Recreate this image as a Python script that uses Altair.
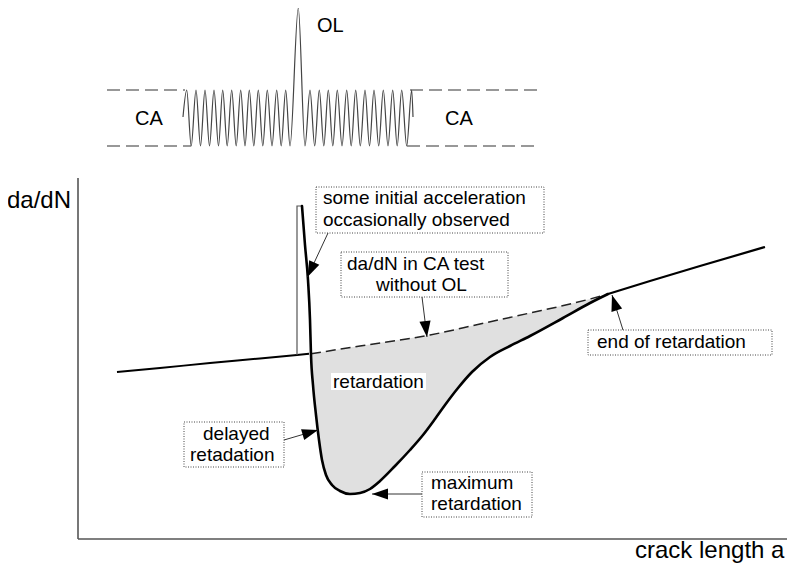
import altair as alt
import pandas as pd
import numpy as np

X_DOMAIN = [8, 787]
Y_DOMAIN = [8, 563]
W, H = 779, 555
FONT = "Liberation Sans"

# ---- top panel: load sequence ----
wave_x = [183, 186.7, 191.2, 196, 200.5, 205, 209.5, 214, 218.5, 222.7, 227.2, 231.7,
          236.2, 240.7, 245, 249.3, 253.8, 258.3, 262.8, 267.3, 272, 276.7, 281.2,
          285.7, 290, 298.3, 305, 310, 314.7, 319.3, 323.8, 328.3, 332.8, 337.3, 342,
          346.7, 351.2, 355.7, 360.3, 365, 369.5, 374, 378.7, 383.3, 388, 392.7,
          397.2, 401.7, 406.7, 411.7, 413]
wave_y = [117, 90, 146, 90, 146, 90, 146, 90, 146, 90, 146, 90,
          146, 90, 146, 90, 146, 90, 146, 90, 146, 90, 146,
          90, 146, 8, 146, 90, 146, 90, 146, 90, 146, 90, 146,
          90, 146, 90, 146, 90, 146, 90, 146, 90, 146, 90,
          146, 90, 146, 90, 117]

ca_levels_x0 = [107, 107, 410, 407]
ca_levels_x1 = [185, 191, 537, 537]
ca_levels_y = [90, 146, 90, 146]

# ---- main panel curves ----
ca_before_x = [117, 160, 210, 260, 297, 309]
ca_before_y = [372, 368, 363, 358.5, 355, 353.8]
ca_dash_x = [311, 360, 430, 480, 530, 570, 590, 608]
ca_dash_y = [353.8, 346, 335, 324, 313, 304, 299, 294]
ca_after_x = [608, 650, 700, 765]
ca_after_y = [294, 281, 266, 247]

spike_x = [297, 297, 302]
spike_y = [355, 206, 206]

ret_x = [302, 305, 308, 310, 311, 313, 316, 319, 322, 326, 332, 340, 350, 360, 370,
         380, 395, 410, 423, 435, 445, 458, 472, 490, 510, 530, 563, 590, 608]
ret_y = [206, 245, 280, 320, 355, 385, 415, 440, 460, 475, 485, 491, 494, 493, 489,
         481, 466, 450, 435, 419, 405, 388, 372, 357, 346, 336, 318, 303, 294]

# ---- axes ----
axis_x0 = [78, 78]
axis_x1 = [78, 787]
axis_y0 = [178, 539]
axis_y1 = [539, 539]

# ---- annotation boxes ----
box_x0 = [316, 341, 184, 422, 588]
box_x1 = [544, 508, 284, 532, 772]
box_y0 = [187, 252, 422, 472, 330]
box_y1 = [233, 297, 467, 517, 355]

label_bg = {"x0": [331], "x1": [426], "y0": [373], "y1": [390]}

# ---- arrows (start -> tip) ----
arr_x0 = [328, 422, 623, 284, 422]
arr_y0 = [233, 297, 330, 440, 494]
arr_x1 = [307.5, 427, 612, 318, 372]
arr_y1 = [277, 337, 295, 430, 494]

# ---- texts ----
txt = ["some initial acceleration", "occasionally observed", "da/dN in CA test",
       "without OL", "delayed", "retadation", "maximum", "retardation",
       "end of retardation", "retardation"]
txt_x = [323, 323, 347, 376, 203, 190, 431, 431, 597, 333]
txt_y = [198, 220, 264, 285, 434, 455, 483, 504, 342, 382]

big_txt = ["da/dN", "crack length a"]
big_x = [7, 635]
big_y = [201, 551]

top_txt = ["OL", "CA", "CA"]
top_x = [317, 135, 445]
top_y = [26, 119, 119]

xs = alt.Scale(domain=X_DOMAIN, nice=False, zero=False)
ys = alt.Scale(domain=Y_DOMAIN, nice=False, zero=False, reverse=True)


def X(f="x"):
    return alt.X(f"{f}:Q", scale=xs, axis=None)


def Y(f="y"):
    return alt.Y(f"{f}:Q", scale=ys, axis=None)


def line(xv, yv, color, width, dash=None, interp="linear", cap="butt"):
    df = pd.DataFrame({"x": xv, "y": yv, "i": list(range(len(xv)))})
    kw = dict(color=color, strokeWidth=width, interpolate=interp, strokeCap=cap)
    if dash:
        kw["strokeDash"] = dash
    return alt.Chart(df).mark_line(**kw).encode(x=X(), y=Y(), order="i:Q")


def segs(x0, y0, x1, y1, color, width, dash=None):
    df = pd.DataFrame({"x": x0, "y": y0, "x2": x1, "y2": y1})
    kw = dict(color=color, strokeWidth=width)
    if dash:
        kw["strokeDash"] = dash
    return alt.Chart(df).mark_rule(**kw).encode(
        x=X(), y=Y(), x2="x2:Q", y2="y2:Q")


def texts(t, xv, yv, size):
    df = pd.DataFrame({"t": t, "x": xv, "y": yv})
    return alt.Chart(df).mark_text(
        font=FONT, fontSize=size, align="left", baseline="middle", color="black"
    ).encode(x=X(), y=Y(), text="t:N")


layers = []

# shaded retardation zone
ret_arr_x = np.array(ret_x, dtype=float)
ret_arr_y = np.array(ret_y, dtype=float)
m = ret_arr_x >= 311
shade_df = pd.DataFrame({
    "x": ret_arr_x[m],
    "y": ret_arr_y[m],
    "y2": np.interp(ret_arr_x[m], ca_dash_x, ca_dash_y),
})
layers.append(alt.Chart(shade_df).mark_area(color="#e0e0e0", interpolate="monotone",
                                            opacity=1).encode(
    x=X(), y=Y(), y2="y2:Q"))

# axes
layers.append(segs(axis_x0, axis_y0, axis_x1, axis_y1, "#555555", 1.6))

# top panel
layers.append(segs(ca_levels_x0, ca_levels_y, ca_levels_x1, ca_levels_y,
                   "#333333", 1.2, dash=[13, 6]))
layers.append(line(wave_x, wave_y, "#444444", 1.2, interp="monotone"))

# main curves
layers.append(line(ca_before_x, ca_before_y, "black", 2.0, interp="monotone"))
layers.append(line(ca_dash_x, ca_dash_y, "#222222", 1.5, dash=[10, 5], interp="monotone"))
layers.append(line(ca_after_x, ca_after_y, "black", 2.2, interp="monotone"))
layers.append(line(spike_x, spike_y, "#555555", 1.2))
layers.append(line(ret_x, ret_y, "black", 2.6, interp="monotone", cap="round"))

# boxes
box_df = pd.DataFrame({"x": box_x0, "x2": box_x1, "y": box_y0, "y2": box_y1})
layers.append(alt.Chart(box_df).mark_rect(
    fill="white", stroke="#444444", strokeWidth=1, strokeDash=[1, 1.5]
).encode(x=X(), x2="x2:Q", y=Y(), y2="y2:Q"))

bg_df = pd.DataFrame({"x": label_bg["x0"], "x2": label_bg["x1"],
                      "y": label_bg["y0"], "y2": label_bg["y1"]})
layers.append(alt.Chart(bg_df).mark_rect(fill="white").encode(
    x=X(), x2="x2:Q", y=Y(), y2="y2:Q"))

# arrows
layers.append(segs(arr_x0, arr_y0, arr_x1, arr_y1, "#333333", 1.0))
dx = np.array(arr_x1) - np.array(arr_x0)
dy = np.array(arr_y1) - np.array(arr_y0)
ang = (np.degrees(np.arctan2(dx, -dy)) + 360) % 360
head_df = pd.DataFrame({"x": arr_x1, "y": arr_y1, "a": ang})
layers.append(alt.Chart(head_df).mark_point(
    shape="M0,0L-0.7,2L0.7,2Z", filled=True, color="black", opacity=1,
    size=256, strokeWidth=0
).encode(x=X(), y=Y(), angle=alt.Angle("a:Q", scale=None)))

# texts
layers.append(texts(txt, txt_x, txt_y, 19))
layers.append(texts(big_txt, big_x, big_y, 24))
layers.append(texts(top_txt, top_x, top_y, 20))

chart = alt.layer(*layers).properties(
    width=W, height=H, padding=0,
    autosize=alt.AutoSizeParams(type="none"),
    background="white",
).configure_view(strokeWidth=0)

chart.save("out.html", embed_options={"renderer": "svg", "actions": False})
